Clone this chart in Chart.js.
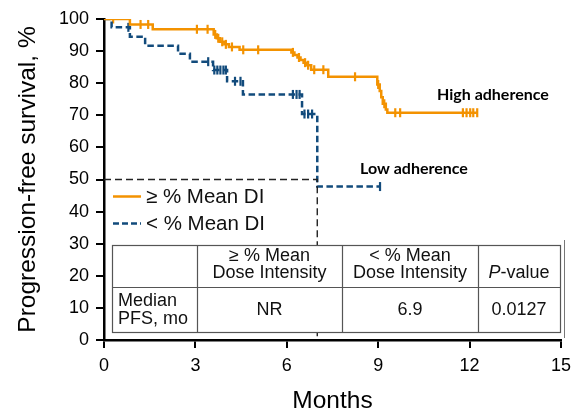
<!DOCTYPE html>
<html>
<head>
<meta charset="utf-8">
<script src="https://cdn.jsdelivr.net/npm/chart.js@4.4.1/dist/chart.umd.min.js"></script>
<style>
html,body{margin:0;padding:0;background:#fff;}
canvas{display:block;}
</style>
</head>
<body>
<canvas id="c" width="573" height="413"></canvas>
<script>
// ---------- DATA ----------
const xTicks = [0, 3, 6, 9, 12, 15];
const yTicks = [0, 10, 20, 30, 40, 50, 60, 70, 80, 90, 100];

// High adherence (>= % mean DI) Kaplan-Meier steps
const highTimes = [0, 0.85, 1.6, 3.6, 3.7, 3.8, 3.95, 4.1, 4.45, 6.15, 6.25, 6.35, 6.45, 6.55, 6.65, 6.8, 7.36, 8.97, 9.05, 9.1, 9.15, 9.25, 9.3, 12.25];
const highSurv  = [100, 98.3, 96.8, 95.2, 94.0, 92.9, 92.1, 91.3, 90.4, 89.6, 88.8, 88.0, 87.2, 86.4, 85.6, 84.2, 82.0, 79.6, 77.6, 75.6, 73.6, 71.8, 70.8, 70.8];
const highCensorTimes = [0.3, 1.2, 1.45, 3.05, 3.4, 3.65, 3.75, 3.88, 4.0, 4.2, 4.57, 5.06, 6.2, 6.4, 6.6, 6.7, 6.9, 7.2, 8.24, 9.0, 9.2, 9.56, 9.72, 11.78, 11.9, 12.02, 12.12, 12.25];
const highCensorSurv  = [100, 98.3, 98.3, 96.8, 96.8, 95.2, 94.0, 92.9, 92.1, 91.3, 90.4, 90.4, 89.6, 88.0, 86.4, 85.6, 84.2, 84.2, 82.0, 79.6, 73.6, 70.8, 70.8, 70.8, 70.8, 70.8, 70.8, 70.8];

// Low adherence (< % mean DI)
const lowTimes = [0, 0.25, 0.85, 1.35, 2.43, 2.82, 3.58, 4.04, 4.56, 6.5, 7.0, 9.06];
const lowSurv  = [100, 97.4, 94.5, 91.7, 89.2, 86.7, 84.1, 80.6, 76.5, 70.4, 47.8, 47.8];
const lowCensorTimes = [0.8, 3.42, 3.62, 3.72, 3.82, 3.92, 4.0, 4.3, 4.48, 6.2, 6.32, 6.42, 6.58, 6.7, 6.83, 9.06];
const lowCensorSurv  = [97.4, 86.7, 84.1, 84.1, 84.1, 84.1, 84.1, 80.6, 80.6, 76.5, 76.5, 76.5, 70.4, 70.4, 70.4, 47.8];

// Median guide line (50% survival, low adherence median)
const medianSurv = 50;
const medianTime = 7.0;

const legendLabels = ['\u2265 % Mean DI', '< % Mean DI'];
const curveLabels = ['High adherence', 'Low adherence'];
const tableHeader = [['', ''], ['\u2265 % Mean', 'Dose Intensity'], ['< % Mean', 'Dose Intensity'], ['P-value']];
const tableRow = [['Median', 'PFS, mo'], 'NR', '6.9', '0.0127'];

// ---------- STYLE ----------
const ORANGE = '#F39200';
const BLUE = '#124B7C';
const SANS = "'Liberation Sans', Arial, sans-serif";
const TFS = 18; // table font size

const pts = (xs, ys) => xs.map((x, i) => ({x: x, y: ys[i]}));

const overlay = {
  id: 'overlay',
  afterDatasetsDraw(chart) {
    const ctx = chart.ctx;
    ctx.save();
    // curve labels
    ctx.fillStyle = '#000';
    ctx.font = "bold 16px Lato, 'Open Sans', sans-serif";
    ctx.textBaseline = 'middle';
    ctx.textAlign = 'left';
    ctx.fillText(curveLabels[0], 437, 95);
    ctx.fillText(curveLabels[1], 360, 169);

    // legend
    ctx.lineWidth = 2.5;
    ctx.strokeStyle = ORANGE;
    ctx.setLineDash([]);
    ctx.beginPath(); ctx.moveTo(113, 196.5); ctx.lineTo(141, 196.5); ctx.stroke();
    ctx.strokeStyle = BLUE;
    ctx.setLineDash([6, 3]);
    ctx.beginPath(); ctx.moveTo(113, 223.5); ctx.lineTo(141, 223.5); ctx.stroke();
    ctx.setLineDash([]);
    ctx.font = "20.5px " + SANS;
    ctx.fillStyle = '#111';
    ctx.fillText(legendLabels[0], 146, 197);
    ctx.fillText(legendLabels[1], 146, 224);

    // table
    const L = 112, T = 245, R = 560, B = 332, rowY = 287;
    const cols = [L, 197, 342, 478, R];
    ctx.fillStyle = '#fff';
    ctx.fillRect(L, T, R - L, B - T);
    ctx.strokeStyle = '#555';
    ctx.lineWidth = 1.2;
    ctx.strokeRect(L + 0.5, T + 0.5, R - L, B - T);
    ctx.beginPath();
    for (let i = 1; i < 4; i++) { ctx.moveTo(cols[i] + 0.5, T); ctx.lineTo(cols[i] + 0.5, B); }
    ctx.moveTo(L, rowY + 0.5); ctx.lineTo(R, rowY + 0.5);
    ctx.stroke();
    // outer right edge line
    ctx.strokeStyle = '#777';
    ctx.lineWidth = 1;
    ctx.beginPath(); ctx.moveTo(564.5, 240); ctx.lineTo(564.5, 338); ctx.stroke();

    ctx.fillStyle = '#111';
    ctx.font = TFS + "px " + SANS;
    ctx.textAlign = 'center';
    for (let c = 1; c <= 2; c++) {
      const cx = (cols[c] + cols[c + 1]) / 2;
      ctx.fillText(tableHeader[c][0], cx, 256);
      ctx.fillText(tableHeader[c][1], cx, 273);
    }
    // P-value with italic P
    {
      const cx = (cols[3] + cols[4]) / 2;
      const hdr = tableHeader[3][0];
      const p = hdr.charAt(0), rest = hdr.slice(1);
      ctx.font = "italic " + TFS + "px " + SANS;
      const wp = ctx.measureText(p).width;
      ctx.font = TFS + "px " + SANS;
      const wr = ctx.measureText(rest).width;
      const x0 = cx - (wp + wr) / 2;
      ctx.textAlign = 'left';
      ctx.font = "italic " + TFS + "px " + SANS;
      ctx.fillText(p, x0, 273);
      ctx.font = TFS + "px " + SANS;
      ctx.fillText(rest, x0 + wp, 273);
    }
    ctx.textAlign = 'left';
    ctx.fillText(tableRow[0][0], 118, 301);
    ctx.fillText(tableRow[0][1], 118, 319);
    ctx.textAlign = 'center';
    for (let c = 1; c <= 3; c++) {
      const cx = (cols[c] + cols[c + 1]) / 2;
      ctx.fillText(tableRow[c], cx, 310);
    }
    ctx.restore();
  }
};

new Chart(document.getElementById('c'), {
  type: 'line',
  data: {
    datasets: [
      {
        label: 'median',
        data: [{x: 0, y: medianSurv}, {x: medianTime, y: medianSurv}, {x: medianTime, y: 0}],
        borderColor: '#222', borderWidth: 1.4, borderDash: [7, 4],
        pointRadius: 0, fill: false, tension: 0
      },
      {
        label: legendLabels[0],
        data: pts(highTimes, highSurv),
        borderColor: ORANGE, borderWidth: 2.5, stepped: true,
        pointRadius: 0, fill: false
      },
      {
        label: legendLabels[1],
        data: pts(lowTimes, lowSurv),
        borderColor: BLUE, borderWidth: 2.5, stepped: true, borderDash: [6.5, 3.5],
        pointRadius: 0, fill: false
      },
      {
        label: 'high censored',
        data: pts(highCensorTimes, highCensorSurv),
        showLine: false, pointStyle: 'line', rotation: 90,
        pointRadius: 4.5, pointBorderWidth: 2.2, borderColor: ORANGE, pointBorderColor: ORANGE, pointHoverRadius: 0
      },
      {
        label: 'low censored',
        data: pts(lowCensorTimes, lowCensorSurv),
        showLine: false, pointStyle: 'line', rotation: 90,
        pointRadius: 4.5, pointBorderWidth: 2.2, borderColor: BLUE, pointBorderColor: BLUE, pointHoverRadius: 0
      }
    ]
  },
  options: {
    responsive: false,
    animation: false,
    devicePixelRatio: 1,
    layout: {padding: {left: 0, right: 12, top: 19, bottom: 0}},
    plugins: {legend: {display: false}, tooltip: {enabled: false}},
    scales: {
      x: {
        type: 'linear', min: 0, max: 15,
        afterBuildTicks: s => { s.ticks = xTicks.map(v => ({value: v})); },
        afterFit: s => { s.height = 73; s.paddingLeft = 0; s.paddingRight = 0; },
        border: {display: true, color: '#000', width: 2.5},
        grid: {display: true, drawOnChartArea: false, drawTicks: true, tickLength: 8, color: '#000', lineWidth: 2},
        ticks: {color: '#000', font: {family: SANS, size: 18}, padding: 7, maxRotation: 0},
        title: {display: true, text: 'Months', color: '#000', font: {family: SANS, size: 24.5, lineHeight: 1}, padding: 0}
      },
      y: {
        type: 'linear', min: 0, max: 100,
        afterBuildTicks: s => { s.ticks = yTicks.map(v => ({value: v})); },
        afterFit: s => { s.width = 104; s.paddingTop = 0; s.paddingBottom = 0; },
        border: {display: true, color: '#000', width: 2.5},
        grid: {display: true, drawOnChartArea: false, drawTicks: true, tickLength: 8, color: '#000', lineWidth: 2},
        ticks: {color: '#000', font: {family: SANS, size: 18}, padding: 7},
        title: {display: true, text: 'Progression-free survival, %', color: '#000', font: {family: SANS, size: 24.5, lineHeight: 1}, padding: {top: 16, bottom: 0}}
      }
    }
  },
  plugins: [overlay]
});
</script>
</body>
</html>
